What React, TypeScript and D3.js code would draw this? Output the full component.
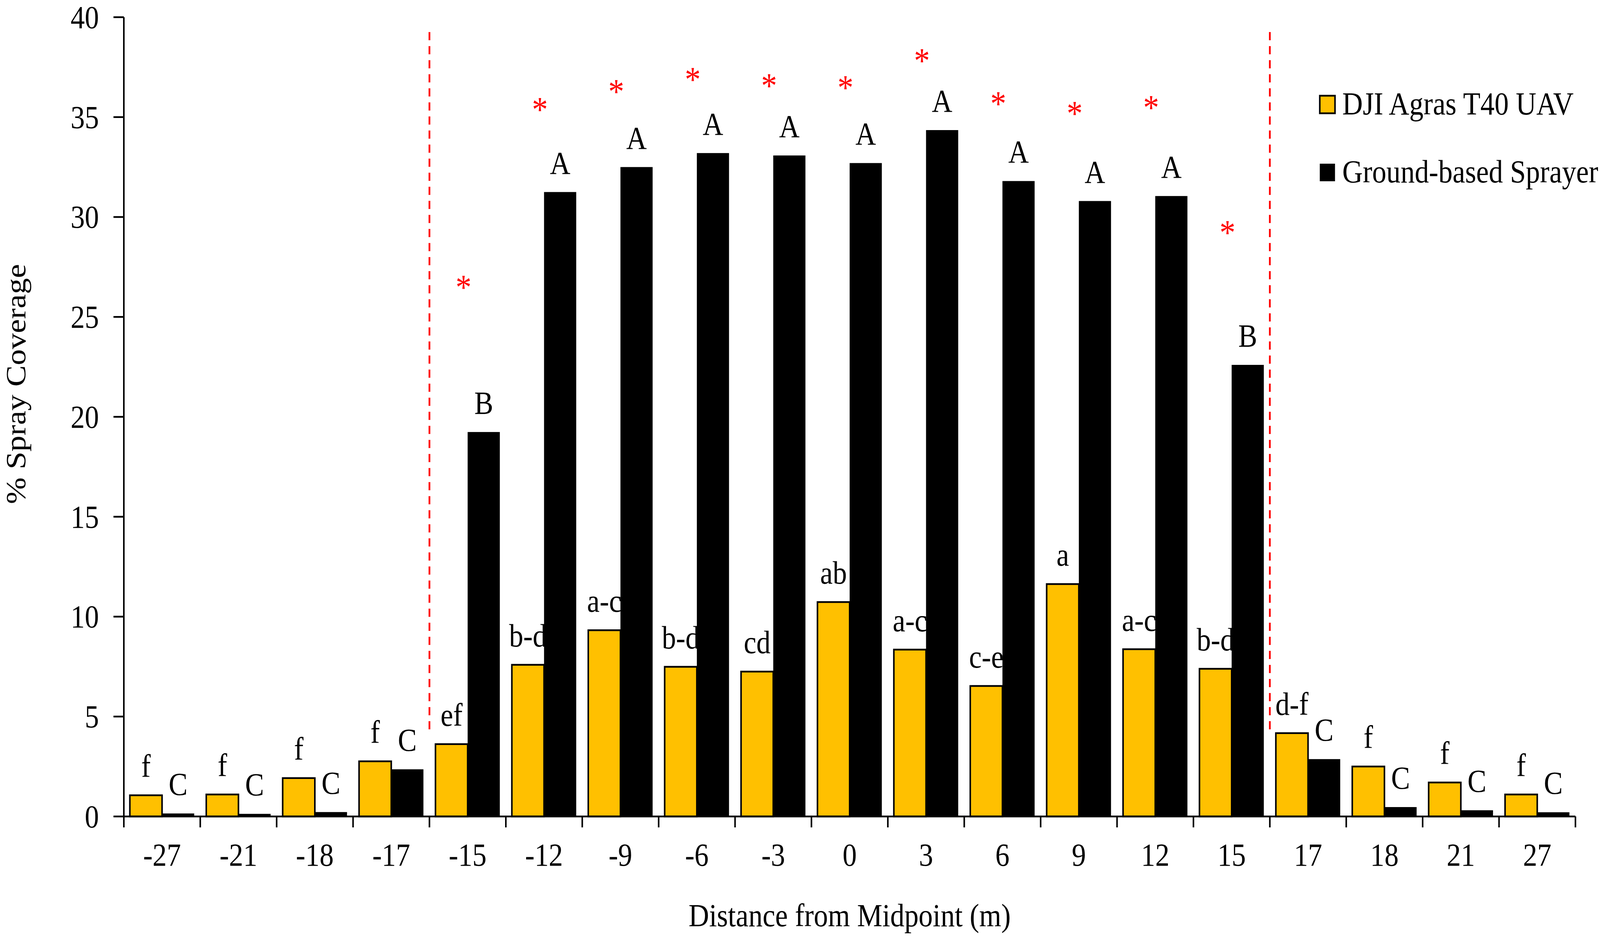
import React from 'react';
import * as d3 from 'd3';

const distances = ["-27", "-21", "-18", "-17", "-15", "-12", "-9", "-6", "-3", "0", "3", "6", "9", "12", "15", "17", "18", "21", "27"];
const uavCoverage = [1.06, 1.1, 1.92, 2.76, 3.62, 7.59, 9.32, 7.49, 7.25, 10.73, 8.35, 6.53, 11.63, 8.37, 7.39, 4.17, 2.5, 1.7, 1.1];
const groundCoverage = [0.15, 0.13, 0.22, 2.36, 19.24, 31.25, 32.5, 33.2, 33.08, 32.7, 34.35, 31.8, 30.8, 31.05, 22.6, 2.87, 0.47, 0.31, 0.21];
const uavLetters = ["f", "f", "f", "f", "ef", "b-d", "a-c", "b-d", "cd", "ab", "a-c", "c-e", "a", "a-c", "b-d", "d-f", "f", "f", "f"];
const groundLetters = ["C", "C", "C", "C", "B", "A", "A", "A", "A", "A", "A", "A", "A", "A", "B", "C", "C", "C", "C"];
// red asterisks (significant difference between sprayers), height of the star in % units
const starDistances = ["-15", "-12", "-9", "-6", "-3", "0", "3", "6", "9", "12", "15"];
const starHeights = [26.7, 35.6, 36.5, 37.1, 36.8, 36.7, 38.05, 35.9, 35.4, 35.7, 29.45];
// dashed lines sit on the left edge of these categories
const boundaryDistances = ["-15", "17"];
const yTickValues = [0, 5, 10, 15, 20, 25, 30, 35, 40];
const seriesNames = ["DJI Agras T40 UAV", "Ground-based Sprayer"];
const seriesColors = ["#FFC000", "#000000"];

const width = 4625;
const height = 2396;
const marginLeft = 358;
const marginRight = 71;
const marginTop = 44;
const marginBottom = 306;
const font = "'Liberation Serif', 'Times New Roman', serif";
const fontSize = 82;

const App = () => {
  const x0 = d3.scaleBand<string>().domain(distances).range([marginLeft, width - marginRight]).paddingInner(0).paddingOuter(0);
  const x1 = d3.scaleBand<string>().domain(seriesNames).range([0, x0.bandwidth()]).paddingInner(0).paddingOuter(0.187);
  const y = d3.scaleLinear().domain([0, 40]).range([height - marginBottom, marginTop]);
  const y0 = y(0);
  const series = [uavCoverage, groundCoverage];
  const letters = [uavLetters, groundLetters];

  return (
    <svg viewBox={`0 0 ${width} ${height}`} preserveAspectRatio="none"
      style={{position: "fixed", left: 0, top: 0, width: "100vw", height: "100vh", display: "block", background: "white"}}
      fontFamily={font}>
      {/* dashed region lines */}
      {boundaryDistances.map(d => (
        <line key={d} x1={x0(d)} x2={x0(d)} y1={82} y2={1868} stroke="#FF0000" strokeWidth={5} strokeDasharray="21 15"/>
      ))}

      {/* bars */}
      {seriesNames.map((name, si) => (
        <g key={name}>
          {distances.map((d, i) => {
            const bx = (x0(d) as number) + (x1(name) as number);
            const by = y(series[si][i]);
            return (
              <rect key={d} x={bx} y={by} width={x1.bandwidth()} height={y0 - by}
                fill={seriesColors[si]} stroke="black" strokeWidth={si === 0 ? 4.5 : 0}/>
            );
          })}
        </g>
      ))}

      {/* letter groupings */}
      {seriesNames.map((name, si) => (
        <g key={name + "lab"}>
          {distances.map((d, i) => (
            <text key={d} x={(x0(d) as number) + (x1(name) as number) + x1.bandwidth() / 2} y={y(series[si][i]) - 47}
              textAnchor="middle" fontSize={fontSize} fill="black">{letters[si][i]}</text>
          ))}
        </g>
      ))}

      {/* asterisks */}
      {starDistances.map((d, i) => (
        <text key={d} x={(x0(d) as number) + x0.bandwidth() / 2 - 12} y={y(starHeights[i]) + 42}
          textAnchor="middle" fontSize={92} fill="#FF0000">*</text>
      ))}

      {/* y axis */}
      <line x1={marginLeft} x2={marginLeft} y1={y(40)} y2={y0} stroke="black" strokeWidth={4.5}/>
      {yTickValues.map(v => (
        <g key={v} transform={`translate(0, ${y(v)})`}>
          <line x1={marginLeft - 30} x2={marginLeft} stroke="black" strokeWidth={4.5}/>
          <text x={286} dy="0.34em" textAnchor="end" fontSize={fontSize} fill="black">{v}</text>
        </g>
      ))}

      {/* x axis */}
      <line x1={marginLeft} x2={width - marginRight} y1={y0} y2={y0} stroke="black" strokeWidth={4.5}/>
      {[...distances.map(d => x0(d) as number), width - marginRight].map((t, i) => (
        <line key={i} x1={t} x2={t} y1={y0} y2={y0 + 28} stroke="black" strokeWidth={4.5}/>
      ))}
      {distances.map(d => (
        <text key={d} x={(x0(d) as number) + x0.bandwidth() / 2} y={2216} textAnchor="middle" fontSize={fontSize} fill="black">{d}</text>
      ))}

      {/* axis titles */}
      <text x={(marginLeft + width - marginRight) / 2} y={2371} textAnchor="middle" fontSize={fontSize} fill="black">Distance from Midpoint (m)</text>
      <text transform="translate(73, 983) rotate(-90)" textAnchor="middle" fontSize={fontSize} fill="black">% Spray Coverage</text>

      {/* legend */}
      {seriesNames.map((name, si) => (
        <g key={name + "leg"} transform={`translate(3815, ${245 + si * 174})`}>
          <rect width={44} height={45} fill={seriesColors[si]} stroke="black" strokeWidth={si === 0 ? 4.5 : 0}/>
          <text x={65} y={48} fontSize={fontSize} fill="black">{name}</text>
        </g>
      ))}
    </svg>
  );
};

export default App;
